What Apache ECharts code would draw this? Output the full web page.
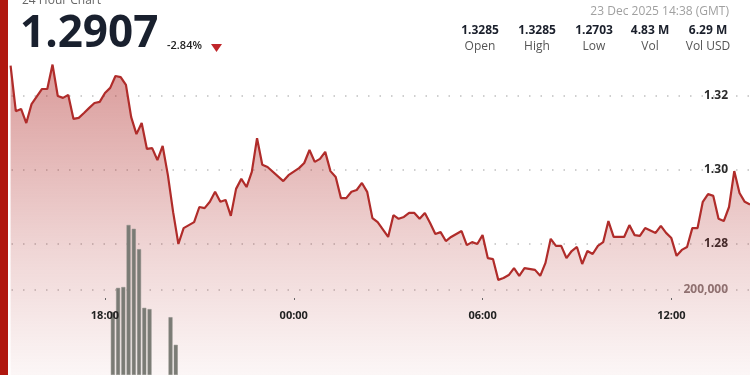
<!DOCTYPE html>
<html><head><meta charset="utf-8">
<script src="https://cdn.jsdelivr.net/npm/echarts@6/dist/echarts.min.js"></script>
<style>html,body{margin:0;padding:0;background:#fff;}#c{width:750px;height:375px;}</style>
</head><body><div id="c"></div>
<script>
// ---- data ----
const lineTimes = ['15:00','15:10','15:20','15:30','15:40','16:00','16:10','16:20','16:30','16:40','16:50','17:00','17:10','17:20','17:30','17:40','17:50','18:00','18:10','18:20','18:30','18:40','18:50','19:00','19:10','19:20','19:30','19:40','19:50','20:00','20:10','20:20','20:30','20:40','20:50','21:00','21:10','21:20','21:30','21:40','21:50','22:00','22:10','22:20','22:30','22:40','22:50','23:00','23:10','23:40','23:50','00:10','00:20','00:30','00:40','00:50','01:00','01:10','01:20','01:30','01:40','01:50','02:00','02:10','02:20','02:30','02:40','03:00','03:10','03:20','03:30','03:40','03:50','04:00','04:10','04:20','04:30','04:40','04:50','05:00','05:20','05:30','05:40','05:50','06:00','06:10','06:20','06:30','06:40','06:50','07:00','07:10','07:20','07:40','07:50','08:00','08:10','08:20','08:30','08:40','08:50','09:00','09:10','09:20','09:30','09:40','09:50','10:00','10:10','10:30','10:40','10:50','11:00','11:10','11:30','11:40','11:50','12:00','12:10','12:20','12:30','12:40','12:50','13:00','13:10','13:20','13:30','13:40','13:50','14:00','14:10','14:20','14:30'];
const linePrices = [1.3282,1.3159,1.3165,1.3127,1.3178,1.3219,1.3219,1.3285,1.3200,1.3195,1.3203,1.3138,1.3141,1.3154,1.3168,1.3181,1.3184,1.3208,1.3222,1.3254,1.3251,1.3230,1.3143,1.3097,1.3127,1.3057,1.3059,1.3027,1.3065,1.2986,1.2886,1.2800,1.2843,1.2851,1.2859,1.2900,1.2897,1.2914,1.2941,1.2914,1.2919,1.2876,1.2949,1.2976,1.2954,1.2995,1.3086,1.3014,1.3008,1.2970,1.2986,1.3005,1.3019,1.3054,1.3022,1.3030,1.3049,1.2997,1.2981,1.2924,1.2924,1.2941,1.2946,1.2965,1.2941,1.2870,1.2859,1.2819,1.2878,1.2868,1.2873,1.2884,1.2884,1.2868,1.2884,1.2857,1.2827,1.2832,1.2808,1.2819,1.2835,1.2797,1.2805,1.2800,1.2824,1.2762,1.2759,1.2703,1.2708,1.2716,1.2735,1.2714,1.2735,1.2730,1.2714,1.2749,1.2814,1.2795,1.2795,1.2762,1.2781,1.2792,1.2746,1.2781,1.2773,1.2795,1.2805,1.2862,1.2819,1.2819,1.2851,1.2824,1.2822,1.2843,1.2830,1.2849,1.2830,1.2816,1.2768,1.2784,1.2792,1.2843,1.2843,1.2914,1.2935,1.2930,1.2868,1.2862,1.2900,1.2997,1.2938,1.2914,1.2907];
const volTimes = ['18:15','18:25','18:35','18:45','18:55','19:05','19:15','19:25','20:05','20:15'];
const volValues = [148000,205000,207000,353000,344000,296000,158000,155000,136000,71000];
const xTickLabels = ['18:00','00:00','06:00','12:00'];
const priceTicks = [1.28,1.30,1.32];
const volTicks = [200000];
const statValues = ['1.3285','1.3285','1.2703','4.83 M','6.29 M'];
const statLabels = ['Open','High','Low','Vol','Vol USD'];
const lastPrice = '1.2907';
const changePct = '-2.84%';
const stampText = '23 Dec 2025 14:38 (GMT)';

// time string -> hours since 22 Dec 00:00 (times before 14:40 belong to 23 Dec)
function toH(t){const p=t.split(':');let h=+p[0]+(+p[1])/60;if(h<14.6)h+=24;return h;}
const lineData = lineTimes.map((t,i)=>[toH(t),linePrices[i]]);
const volData = volTimes.map((t,i)=>[toH(t),volValues[i]]);
const xTicks = xTickLabels.map(toH);

const statX = [480,537,594,650,708];
const graphics = [
  {type:'rect',left:0,top:0,shape:{width:8,height:375},style:{fill:'#b0180f'},z:100},
  {type:'text',left:22,top:-5,style:{text:'24 Hour Chart',font:'12px "Open Sans"',fill:'#666'},z:100},
  {type:'text',left:20,top:12,style:{text:lastPrice,font:'bold 44px "Open Sans"',fill:'#19202e'},z:100},
  {type:'text',left:167,top:40,style:{text:changePct,font:'600 11px "Open Sans"',fill:'#222'},z:100},
  {type:'polygon',shape:{points:[[211,44],[222,44],[216.5,52]]},style:{fill:'#c0262a'},z:100},
  {type:'text',right:21,top:6,style:{text:stampText,font:'12px "Open Sans"',fill:'#a0a0a0'},z:100}
];
statValues.forEach((v,i)=>{
  graphics.push({type:'text',x:statX[i],y:31,style:{text:v,font:'bold 12px "Open Sans"',fill:'#1a1f2b',align:'center',verticalAlign:'middle'},z:100});
  graphics.push({type:'text',x:statX[i],y:47,style:{text:statLabels[i],font:'12px "Open Sans"',fill:'#555',align:'center',verticalAlign:'middle'},z:100});
});

const chart = echarts.init(document.getElementById('c'),null,{renderer:'canvas'});
const gridLine = {show:true,lineStyle:{color:'#c0c0c0',width:1.5,type:[1.5,10]}};
chart.setOption({
  animation:false,
  textStyle:{fontFamily:'"Open Sans"'},
  grid:{left:0,right:0,top:0,bottom:0,containLabel:false},
  xAxis:{type:'value',min:14.664,max:38.5,position:'bottom',offset:-77,z:10,
    axisLine:{show:false},
    axisTick:{show:true,length:2,lineStyle:{color:'#666'},customValues:xTicks},
    axisLabel:{customValues:xTicks,formatter:function(v){const h=Math.round(v)%24;return (h<10?'0':'')+h+':00';},
      fontWeight:'bold',fontSize:11,color:'#222',margin:12},
    splitLine:{show:false}},
  yAxis:[
    {type:'value',position:'right',min:1.24459,max:1.34595,
      axisLine:{show:false},axisTick:{show:false,customValues:priceTicks},
      axisLabel:{inside:true,margin:22,customValues:priceTicks,formatter:v=>v.toFixed(2),fontWeight:'bold',fontSize:12,color:'#2a2a2a'},
      splitLine:gridLine},
    {type:'value',position:'right',min:0,max:882353,
      axisLine:{show:false},axisTick:{show:false,customValues:volTicks},
      axisLabel:{inside:true,margin:22,customValues:volTicks,formatter:v=>v.toLocaleString('en-US'),fontWeight:'bold',fontSize:12,color:'#8a7c7c'},
      splitLine:gridLine}
  ],
  series:[
    {type:'line',yAxisIndex:0,data:lineData,symbol:'none',z:2,
      lineStyle:{color:'#b02c2a',width:2.2},
      areaStyle:{origin:'start',color:new echarts.graphic.LinearGradient(0,0,0,1,[
        {offset:0,color:'rgba(176,44,42,0.68)'},{offset:0.6,color:'rgba(176,44,42,0.28)'},{offset:1,color:'rgba(176,44,42,0.06)'}])}},
    {type:'bar',yAxisIndex:1,data:volData,barWidth:4,z:3,
      itemStyle:{color:'#7a7b75',borderColor:'#8e8f89',borderWidth:0.5}}
  ],
  graphic:graphics
});
</script></body></html>
